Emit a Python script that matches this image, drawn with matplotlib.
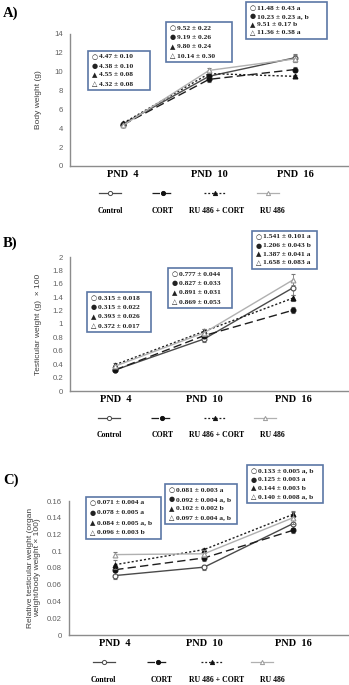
import matplotlib
matplotlib.use("Agg")
import matplotlib.pyplot as plt
from matplotlib.lines import Line2D
from matplotlib.patches import Rectangle

W, H = 349, 685

groups = ["Control", "CORT", "RU 486 + CORT", "RU 486"]
days = ["PND  4", "PND  10", "PND  16"]

# body weight (g)
bw_mean = [[4.47, 9.52, 11.48], [4.38, 9.19, 10.23], [4.55, 9.80, 9.51], [4.32, 10.14, 11.36]]
bw_err = [[0.10, 0.22, 0.43], [0.10, 0.26, 0.23], [0.08, 0.24, 0.17], [0.08, 0.30, 0.38]]
bw_sig = [["", "", "a"], ["", "", "a, b"], ["", "", "b"], ["", "", "a"]]

# testicular weight (g) x 100
tw_mean = [[0.315, 0.777, 1.541], [0.315, 0.827, 1.206], [0.393, 0.891, 1.387], [0.372, 0.869, 1.658]]
tw_err = [[0.018, 0.044, 0.101], [0.022, 0.033, 0.043], [0.026, 0.031, 0.041], [0.017, 0.053, 0.083]]
tw_sig = [["", "", "a"], ["", "", "b"], ["", "", "a"], ["", "", "a"]]

# relative testicular weight
rw_mean = [[0.071, 0.081, 0.133], [0.078, 0.092, 0.125], [0.084, 0.102, 0.144], [0.096, 0.097, 0.140]]
rw_err = [[0.004, 0.003, 0.005], [0.005, 0.004, 0.003], [0.005, 0.002, 0.003], [0.003, 0.004, 0.008]]
rw_sig = [["a", "a", "a, b"], ["a", "a, b", "a"], ["a, b", "b", "b"], ["b", "a, b", "a, b"]]

STYLES = [
    dict(color="#4a4a4a", ls="-", marker="o", mfc="white", mec="#4a4a4a", lw=1.0),
    dict(color="#1e1e1e", ls=(0, (6, 3)), marker="o", mfc="#111111", mec="#111111", lw=1.0),
    dict(color="#1e1e1e", ls=(0, (1.5, 1.5)), marker="^", mfc="#111111", mec="#111111", lw=1.0),
    dict(color="#b0b0b0", ls="-", marker="^", mfc="white", mec="#999999", lw=1.0),
]
SYMS = ["○", "●", "▲", "△"]
SERIF = ["Liberation Serif", "DejaVu Sans"]
SANS = "Liberation Sans"
BOX_EC = "#5b77a5"
TICK_C = "#606060"

fig = plt.figure(figsize=(W / 100, H / 100), dpi=100)


def fx(px):
    return px / W


def fy(py):
    return 1 - py / H


def value_box(box, lines):
    l, t, r, b = box
    fig.add_artist(Rectangle((fx(l), fy(b)), fx(r) - fx(l), fy(t) - fy(b),
                             transform=fig.transFigure, fc="white", ec=BOX_EC, lw=1.2,
                             zorder=10))
    step = (b - t - 12) / 3
    for k, (sym, txt) in enumerate(lines):
        yy = fy(t + 6 + step * k)
        fig.text(fx(l + 6.5), yy, sym, fontsize=5, family="DejaVu Sans", color="#222222",
                 ha="center", va="center", zorder=11)
        fig.text(fx(l + 11), yy, txt, fontsize=5.4, fontweight="bold", family=SERIF,
                 color="#222222", ha="left", va="center", zorder=11)


def panel(label, lab_y, left, top, bottom, xlim, ymax, ystep, ylabel, ylab_x,
          mean, err, sig, decimals, boxes, leg_y, lab2_y, leg_x, leg_lab_x):
    ax = fig.add_axes([fx(left), fy(bottom), fx(349) - fx(left), fy(top) - fy(bottom)])
    x = list(range(len(days)))
    for i, st in enumerate(STYLES):
        ax.errorbar(x, mean[i], yerr=err[i], color=st["color"], ls=st["ls"], lw=st["lw"],
                    marker=st["marker"], ms=3.5, mfc=st["mfc"], mec=st["mec"], mew=0.8,
                    ecolor="#777777", elinewidth=0.6, capsize=1.5, capthick=0.6, zorder=3 + i)
    ax.set_xlim(*xlim)
    ax.set_ylim(0, ymax)
    yt = [k * ystep for k in range(int(round(ymax / ystep)) + 1)]
    ax.set_yticks(yt)
    ax.set_yticklabels([f"{v:g}" for v in yt], fontsize=5.6, color=TICK_C, fontname=SANS)
    ax.set_xticks(x)
    ax.set_xticklabels(days, fontsize=7.5, fontweight="bold", family=SERIF)
    ax.tick_params(axis="x", length=0, pad=3)
    ax.tick_params(axis="y", length=0, pad=5)
    for s in ["top", "right"]:
        ax.spines[s].set_visible(False)
    for s in ["left", "bottom"]:
        ax.spines[s].set_color("#8c8c8c")
        ax.spines[s].set_linewidth(1.0)
    ax.patch.set_alpha(0)

    fig.text(fx(3), fy(lab_y), label, fontsize=10.5, fontweight="bold", family=SERIF,
             va="center", ha="left")
    fig.text(fx(ylab_x), fy((top + bottom) / 2), ylabel, fontsize=6, color="#404040",
             fontname=SANS, rotation=90, va="center", ha="center", linespacing=1.05)

    # value boxes, one per day
    for j, box in enumerate(boxes):
        lines = []
        for i in range(len(groups)):
            s = f"{mean[i][j]:.{decimals}f} ± {err[i][j]:.{decimals}f}"
            if sig[i][j]:
                s += " " + sig[i][j]
            lines.append((SYMS[i], s))
        value_box(box, lines)

    # legend: sample above, label below
    for i, st in enumerate(STYLES):
        cx = leg_x[i]
        fig.add_artist(Line2D([fx(cx - 11), fx(cx + 11)], [fy(leg_y), fy(leg_y)],
                              color=st["color"], ls=st["ls"], lw=0.9))
        fig.add_artist(Line2D([fx(cx)], [fy(leg_y)], marker=st["marker"], ms=3,
                              mfc=st["mfc"], mec=st["mec"], mew=0.7, ls="none"))
        fig.text(fx(leg_lab_x[i]), fy(lab2_y), groups[i], fontsize=5.6, fontweight="bold",
                 family=SERIF, ha="center", va="center")
    return ax


panel("A)", 13, 70, 34, 166, (-0.62, 2.63), 14, 2,
      "Body weight (g)", 39, bw_mean, bw_err, bw_sig, 2,
      [(88, 51, 150, 90), (166, 22, 232, 62), (246, 2, 327, 39)], 193, 211,
      [110, 163, 215, 268], [110, 163, 217, 272])

panel("B)", 243, 70, 257, 391, (-0.51, 2.63), 2, 0.2,
      "Testicular weight (g)  × 100", 38, tw_mean, tw_err, tw_sig, 3,
      [(87, 292, 151, 332), (168, 268, 232, 308), (252, 231, 317, 269)], 418, 435,
      [109, 162, 215, 265], [109, 163, 217, 272])

panel("C)", 480, 69, 501, 635, (-0.52, 2.63), 0.16, 0.02,
      "Relative testicular weight (organ\nweight/body weight × 100)", 34, rw_mean, rw_err,
      rw_sig, 3, [(86, 497, 161, 539), (165, 484, 237, 524), (247, 465, 323, 503)], 662, 680,
      [104, 158, 212, 262], [103, 162, 217, 272])

fig.savefig("out.png", dpi=100, facecolor="white")
